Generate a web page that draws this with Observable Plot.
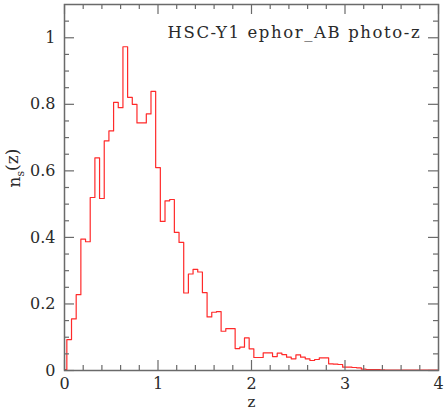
<!DOCTYPE html>
<html>
<head>
<meta charset="utf-8">
<script src="https://cdn.jsdelivr.net/npm/d3@7"></script>
<script src="https://cdn.jsdelivr.net/npm/@observablehq/plot@0.6"></script>
<style>
  html, body { margin: 0; padding: 0; background: #fff; }
  #chart svg { display: block; }
</style>
</head>
<body>
<div id="chart"></div>
<script>
// Bin centres (z) and histogram heights n_s(z)
const zBins = [0.00,0.05,0.10,0.15,0.20,0.25,0.30,0.35,0.40,0.45,0.50,0.55,0.60,0.65,0.70,0.75,0.80,0.85,0.90,0.95,
  1.00,1.05,1.10,1.15,1.20,1.25,1.30,1.35,1.40,1.45,1.50,1.55,1.60,1.65,1.70,1.75,1.80,1.85,1.90,1.95,
  2.00,2.05,2.10,2.15,2.20,2.25,2.30,2.35,2.40,2.45,2.50,2.55,2.60,2.65,2.70,2.75,2.80,2.85,2.90,2.95,
  3.00,3.05,3.10,3.15,3.20,3.25,3.30,3.35,3.40,3.45,3.50,3.55,3.60,3.65,3.70,3.75,3.80,3.85,3.90,3.95,4.00];
const nsValues = [0.003,0.093,0.155,0.228,0.395,0.387,0.520,0.639,0.517,0.690,0.720,0.806,0.790,0.973,0.821,0.800,0.744,0.744,0.771,0.839,
  0.610,0.448,0.510,0.514,0.415,0.385,0.233,0.290,0.304,0.296,0.234,0.161,0.175,0.177,0.118,0.126,0.126,0.066,0.070,0.098,
  0.065,0.039,0.039,0.053,0.053,0.042,0.052,0.048,0.040,0.035,0.047,0.040,0.035,0.030,0.033,0.038,0.038,0.020,0.019,0.018,
  0.010,0.010,0.009,0.008,0.004,0.003,0.003,0.003,0.002,0.001,0.001,0.001,0.001,0.001,0.001,0.001,0.001,0.001,0.001,0.001,0.001];

const xMajorTicks = [0, 1, 2, 3, 4];
const xMinorTicks = [0.2,0.4,0.6,0.8,1.2,1.4,1.6,1.8,2.2,2.4,2.6,2.8,3.2,3.4,3.6,3.8];
const yMajorTicks = [0, 0.2, 0.4, 0.6, 0.8, 1];
const yMinorTicks = [0.05,0.1,0.15,0.25,0.3,0.35,0.45,0.5,0.55,0.65,0.7,0.75,0.85,0.9,0.95,1.05];
const xTickLabels = ["0", "1", "2", "3", "4"];
const yTickLabels = ["0", "0.2", "0.4", "0.6", "0.8", "1"];

const titleText = "HSC-Y1 ephor_AB photo-z";
const xLabel = "z";
const yLabel = "n_s(z)";

const W = 447, H = 411;
const mL = 64, mR = 9, mT = 4, mB = 41;
const innerW = W - mL - mR, innerH = H - mT - mB;
const axisColor = "#6a6a6a";
const textColor = "#2a2a2a";
const font = "'DejaVu Serif', serif";

const data = zBins.map((z, i) => ({z, n: nsValues[i]}));
const majorLen = 10, minorLen = 5;

const plot = Plot.plot({
  width: W, height: H,
  marginLeft: mL, marginRight: mR, marginTop: mT, marginBottom: mB,
  style: {fontFamily: font, fontSize: "16px", color: textColor, background: "#fff"},
  x: {domain: [0, 4]},
  y: {domain: [0, 1.1]},
  marks: [
    Plot.line(data, {x: "z", y: "n", curve: "step", stroke: "#ff2a2a", strokeWidth: 1.2}),
    // ticks bottom / top
    Plot.tickX(xMajorTicks, {x: d => d, insetTop: innerH - majorLen, stroke: axisColor, strokeWidth: 1.2}),
    Plot.tickX(xMinorTicks, {x: d => d, insetTop: innerH - minorLen, stroke: axisColor, strokeWidth: 1.2}),
    Plot.tickX(xMajorTicks, {x: d => d, insetBottom: innerH - majorLen, stroke: axisColor, strokeWidth: 1.2}),
    Plot.tickX(xMinorTicks, {x: d => d, insetBottom: innerH - minorLen, stroke: axisColor, strokeWidth: 1.2}),
    // ticks left / right
    Plot.tickY(yMajorTicks, {y: d => d, insetRight: innerW - majorLen, stroke: axisColor, strokeWidth: 1.2}),
    Plot.tickY(yMinorTicks, {y: d => d, insetRight: innerW - minorLen, stroke: axisColor, strokeWidth: 1.2}),
    Plot.tickY(yMajorTicks, {y: d => d, insetLeft: innerW - majorLen, stroke: axisColor, strokeWidth: 1.2}),
    Plot.tickY(yMinorTicks, {y: d => d, insetLeft: innerW - minorLen, stroke: axisColor, strokeWidth: 1.2}),
    Plot.frame({stroke: axisColor, strokeWidth: 1.5}),
    Plot.axisX(xMajorTicks, {tickSize: 0, tickPadding: 7, tickFormat: (d, i) => xTickLabels[i], label: null, fontSize: 16, fill: textColor}),
    Plot.axisY(yMajorTicks, {tickSize: 0, tickPadding: 9, tickFormat: (d, i) => yTickLabels[i], label: null, fontSize: 16, fill: textColor}),
    Plot.text([titleText], {frameAnchor: "top-left", dx: 103, dy: 33, text: d => d, textAnchor: "start", lineAnchor: "bottom", fontSize: 16.5, fill: textColor}),
    Plot.text([xLabel], {frameAnchor: "bottom", dy: 32, text: d => d, lineAnchor: "middle", fontSize: 15, fill: textColor}),
    Plot.text([yLabel], {frameAnchor: "left", dx: -50, text: d => d, rotate: -90, lineAnchor: "middle", fontSize: 17, fill: textColor})
  ]
});

d3.select(plot).selectAll("text").each(function () {
  if (this.textContent === titleText) {
    d3.select(this).style("letter-spacing", "1.6px");
  }
  if (this.textContent === yLabel) {
    const t = d3.select(this);
    t.text(null);
    t.append("tspan").text("n");
    t.append("tspan").attr("font-size", "11px").attr("dy", "0.35em").text("s");
    t.append("tspan").attr("dy", "-0.35em").text("(z)");
  }
});

document.getElementById("chart").appendChild(plot);
</script>
</body>
</html>
